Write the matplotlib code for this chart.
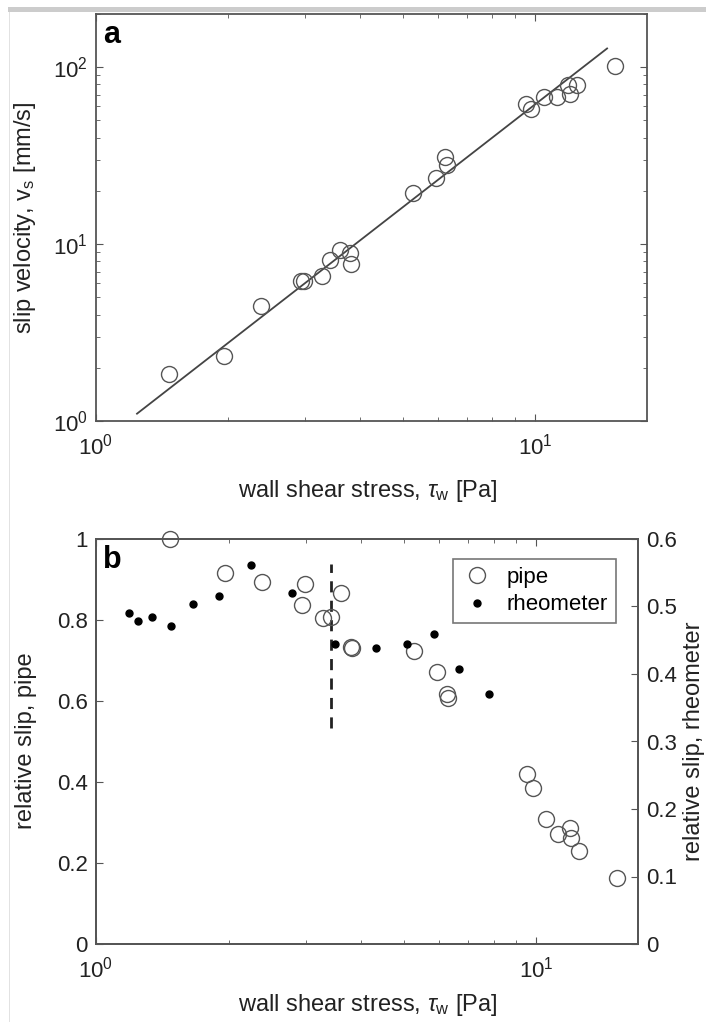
import matplotlib
matplotlib.use("Agg")
import matplotlib.pyplot as plt
from matplotlib.patches import Rectangle
from matplotlib.ticker import FormatStrFormatter, LogLocator
import numpy as np

plt.rcParams['font.family'] = ['Liberation Sans', 'DejaVu Sans']
plt.rcParams['mathtext.fontset'] = 'custom'
plt.rcParams['mathtext.rm'] = 'Liberation Sans'
plt.rcParams['mathtext.it'] = 'Liberation Sans:italic'
plt.rcParams['mathtext.bf'] = 'Liberation Sans:bold'

# wall shear stress [Pa], shared by pipe data in both panels
tau = [1.47, 1.96, 2.38, 2.93, 2.98, 3.28, 3.41, 3.59, 3.79, 3.81, 5.27,
       5.96, 6.25, 6.31, 9.52, 9.80, 10.5, 11.2, 11.9, 12.0, 12.5, 15.2]
# slip velocity [mm/s]
v_slip = [1.85, 2.33, 4.48, 6.15, 6.15, 6.57, 8.09, 9.22, 8.92, 7.75, 19.5,
          23.7, 31.2, 27.9, 61.7, 58.3, 68.0, 67.9, 79.0, 70.3, 79.0, 101.0]
# relative slip, pipe
rel_pipe = [1.0, 0.917, 0.893, 0.837, 0.888, 0.804, 0.808, 0.866, 0.734, 0.730, 0.7235,
            0.671, 0.617, 0.607, 0.419, 0.384, 0.308, 0.272, 0.286, 0.262, 0.230, 0.162]

# power law fit line end points
fit_tau = [1.24, 14.6]
fit_v = [1.10, 127.7]

# rheometer data (right axis)
tau_rheo = [1.188, 1.247, 1.337, 1.477, 1.66, 1.90, 2.25, 2.78, 3.49, 4.33, 5.09, 5.86, 6.67, 7.82]
rel_rheo = [0.491, 0.479, 0.485, 0.471, 0.504, 0.515, 0.562, 0.520, 0.445, 0.438, 0.445, 0.459, 0.407, 0.371]

# transition marker
tau_crit = 3.41
crit_range = [0.533, 0.938]

W, H = 706, 1022
fig = plt.figure(figsize=(W / 100, H / 100), dpi=100)

edge = '#555555'
txt = '#222222'
fs = 17
fst = 16

# gray frame of the original scan
fig.add_artist(Rectangle((8 / W, 1 - 12 / H), 1, 5 / H, transform=fig.transFigure,
                         color='#cccccc', lw=0))
fig.add_artist(Rectangle((9 / W, 0), 1.2 / W, 1 - 12 / H, transform=fig.transFigure,
                         color='#e2e2e2', lw=0))


def style(ax):
    for s in ax.spines.values():
        s.set_color(edge)
        s.set_linewidth(1.3)
    ax.tick_params(which='both', direction='in', colors=edge, labelcolor=txt,
                   labelsize=fst)
    ax.tick_params(which='major', length=5)
    ax.tick_params(which='minor', length=3)


def ftext(x, y, s, **kw):
    fig.text(x / W, 1 - y / H, s, fontsize=fs, color=txt, **kw)


# ---------- panel a ----------
ax1 = fig.add_axes([96 / W, 1 - 421 / H, (647 - 96) / W, (421 - 14) / H])
ax1.plot(fit_tau, fit_v, '-', color='#444444', lw=1.3)
ax1.plot(tau, v_slip, 'o', mfc='none', mec=edge, ms=11.5, mew=1.0)
ax1.set_xscale('log')
ax1.set_yscale('log')
ax1.set_xlim(1, 18)
ax1.set_ylim(1, 200)
ax1.xaxis.set_major_locator(LogLocator(base=10, numticks=5))
ax1.yaxis.set_major_locator(LogLocator(base=10, numticks=5))
style(ax1)
ax1.tick_params(which='both', top=True, right=True)
ax1.tick_params(axis='x', pad=9)
ax1.tick_params(axis='y', pad=6)
ax1.text(0.013, 0.985, 'a', transform=ax1.transAxes, fontsize=22, fontweight='bold',
         va='top', ha='left')
ftext(368, 497, r'wall shear stress, $\tau_{\rm w}$ [Pa]', ha='center', va='baseline')
ftext(25, 218, r'slip velocity, v$_{\rm s}$ [mm/s]', ha='center', va='center', rotation=90)

# ---------- panel b ----------
ax2 = fig.add_axes([96 / W, 1 - 944 / H, (638 - 96) / W, (944 - 539) / H])
ax3 = ax2.twinx()
ax2.plot([tau_crit, tau_crit], crit_range, '--', color=txt, lw=2, dashes=(4, 3))
p1, = ax2.plot(tau, rel_pipe, 'o', mfc='none', mec=edge, ms=11.5, mew=1.0,
               label='pipe', clip_on=False, zorder=5)
p2, = ax3.plot(tau_rheo, rel_rheo, 'o', color='black', ms=5, label='rheometer')
ax2.set_xscale('log')
ax2.set_xlim(1, 17)
ax2.set_ylim(0, 1)
ax3.set_ylim(0, 0.6)
ax2.set_yticks(np.arange(0, 1.01, 0.2))
ax3.set_yticks(np.arange(0, 0.61, 0.1))
ax2.yaxis.set_major_formatter(FormatStrFormatter('%g'))
ax3.yaxis.set_major_formatter(FormatStrFormatter('%g'))
ax2.xaxis.set_major_locator(LogLocator(base=10, numticks=5))
style(ax2)
style(ax3)
ax2.tick_params(which='both', top=True, right=False)
ax2.tick_params(axis='x', pad=9)
ax2.tick_params(axis='y', pad=6)
ax3.tick_params(axis='y', pad=6)
ax2.text(0.013, 0.985, 'b', transform=ax2.transAxes, fontsize=22, fontweight='bold',
         va='top', ha='left')
ftext(368, 1011, r'wall shear stress, $\tau_{\rm w}$ [Pa]', ha='center', va='baseline')
ftext(26, 741, 'relative slip, pipe', ha='center', va='center', rotation=90)
ftext(694, 741, 'relative slip, rheometer', ha='center', va='center', rotation=90)

leg = ax3.legend([p1, p2], ['pipe', 'rheometer'], loc='upper right',
                 bbox_to_anchor=(616 / W, 1 - 559 / H), bbox_transform=fig.transFigure,
                 borderaxespad=0, fancybox=False, fontsize=fst, handletextpad=0.6,
                 labelspacing=0.3, borderpad=0.35, handlelength=1.5)
leg.get_frame().set_edgecolor(edge)
leg.get_frame().set_linewidth(1.2)

fig.savefig('out.png', dpi=100)
